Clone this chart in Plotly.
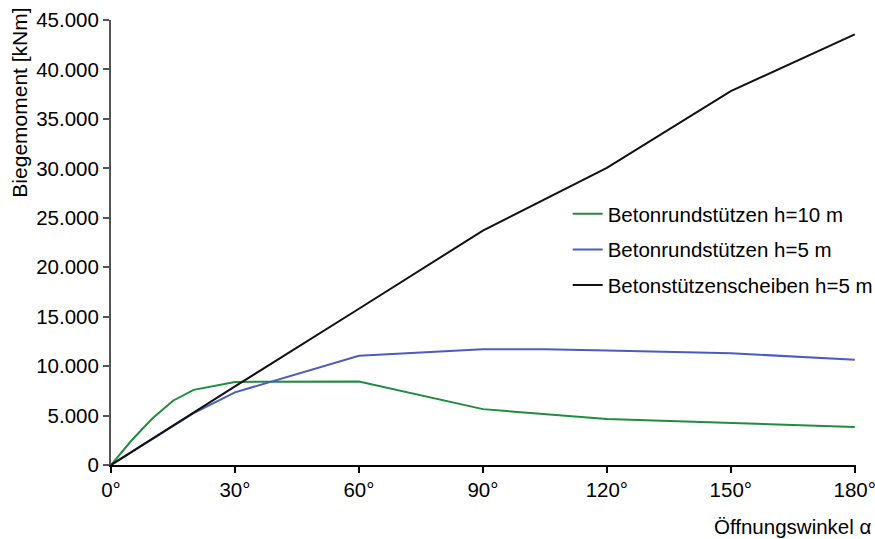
import plotly.graph_objects as go

# Opening angle in degrees and bending moments in kNm
angle_h10 = [0, 5, 10, 15, 20, 30, 60, 90, 120, 150, 180]
moment_h10 = [0, 2500, 4700, 6500, 7600, 8400, 8450, 5650, 4650, 4220, 3850]

angle_h5 = [0, 10, 20, 30, 60, 90, 105, 120, 150, 180]
moment_h5 = [0, 2650, 5250, 7350, 11050, 11700, 11700, 11570, 11300, 10650]

angle_wall = [0, 30, 60, 90, 120, 150, 180]
moment_wall = [0, 7950, 15800, 23700, 30050, 37800, 43550]

series_names = [
    "Betonrundstützen h=10 m",
    "Betonrundstützen h=5 m",
    "Betonstützenscheiben h=5 m",
]
series_colors = ["#1f8c3e", "#4a5cbf", "#111111"]

x_ticks = [0, 30, 60, 90, 120, 150, 180]
x_tick_labels = ["0°", "30°", "60°", "90°", "120°", "150°", "180°"]
y_ticks = [0, 5000, 10000, 15000, 20000, 25000, 30000, 35000, 40000, 45000]

FONT = "Liberation Sans, Arial, sans-serif"

fig = go.Figure()
for i, (xs, ys) in enumerate([(angle_h10, moment_h10), (angle_h5, moment_h5), (angle_wall, moment_wall)]):
    fig.add_trace(go.Scatter(
        x=xs, y=ys, mode="lines", name=series_names[i],
        legendgroup=str(i),
        line=dict(color=series_colors[i], width=2),
    ))

fig.update_layout(
    width=875, height=539,
    margin=dict(l=111, r=19, t=20, b=74, autoexpand=False),
    paper_bgcolor="white", plot_bgcolor="white",
    separators=",.",
    font=dict(family=FONT, size=20.5, color="black"),
    showlegend=True,
    legend=dict(
        x=0.613, y=0.609, xanchor="left", yanchor="top",
        bgcolor="rgba(0,0,0,0)", font=dict(size=20.5),
        tracegroupgap=6,
    ),
    xaxis=dict(
        range=[0, 180.3], tickvals=x_ticks, ticktext=x_tick_labels,
        automargin=False, ticklabeloverflow="allow",
        showgrid=False, zeroline=False,
        showline=True, linecolor="black", linewidth=1.5,
        ticks="outside", ticklen=6, tickcolor="black", tickwidth=1.5,
        tickfont=dict(size=20.5),
    ),
    yaxis=dict(
        range=[0, 45000], tickvals=y_ticks, tickformat=",d",
        automargin=False, ticklabeloverflow="allow",
        showgrid=False, zeroline=False,
        showline=True, linecolor="#555555", linewidth=2,
        ticks="outside", ticklen=6, tickcolor="#555555", tickwidth=1.5,
        tickfont=dict(size=20.5),
    ),
    annotations=[
        dict(text="Biegemoment [kNm]", xref="paper", yref="paper",
             x=-0.1223, y=1.032, xanchor="center", yanchor="top", textangle=-90,
             showarrow=False, font=dict(size=21)),
        dict(text="Öffnungswinkel α", xref="paper", yref="paper",
             x=1.0228, y=-0.108, xanchor="right", yanchor="top",
             showarrow=False, font=dict(size=20.5)),
    ],
)

fig.write_html("out.html")
